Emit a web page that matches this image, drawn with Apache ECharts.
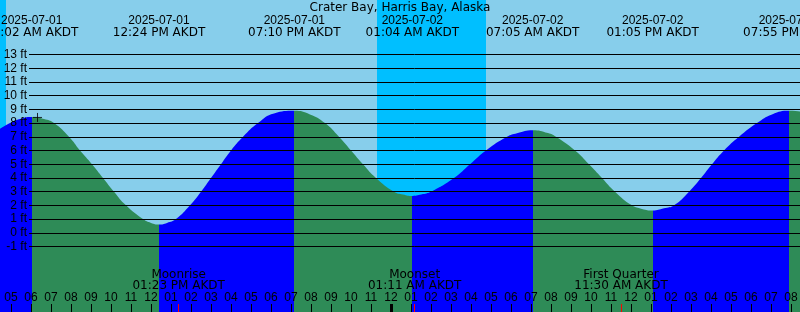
<!DOCTYPE html>
<html><head><meta charset="utf-8">
<script src="https://cdn.jsdelivr.net/npm/echarts@6/dist/echarts.min.js"></script>
<style>html,body{margin:0;padding:0;background:#87CEEB}#c{width:800px;height:312px}</style>
</head><body><div id="c"></div>
<script>
// ---- data (hours counted from 2025-07-01 00:00 AKDT) ----
const chartTitle = 'Crater Bay, Harris Bay, Alaska';
const tideHours = [4.40, 4.90, 5.40, 6.0333, 6.65, 7.15, 7.90, 8.45, 9.05, 9.60, 10.15, 10.75, 11.60, 12.00, 12.4,
  12.80, 13.25, 13.95, 14.50, 15.00, 15.50, 16.00, 16.60, 17.35, 18.15, 19.1667,
  19.95, 20.70, 21.40, 22.00, 22.60, 23.25, 24.15, 24.60, 25.0667,
  25.60, 26.00, 27.15, 27.95, 28.75, 29.80, 30.30, 31.0833,
  31.85, 32.25, 33.20, 33.90, 34.55, 35.20, 36.05, 36.55, 37.0833,
  37.65, 38.15, 38.90, 39.50, 40.05, 40.65, 41.40, 42.30, 43.05, 43.9167, 44.50];
const tideFeet = [7.53, 7.97, 8.28, 8.45, 8.30, 8.00, 7.00, 6.00, 5.00, 4.00, 3.00, 2.00, 1.00, 0.72, 0.60,
  0.72, 1.00, 2.00, 3.00, 4.00, 5.00, 6.00, 7.00, 8.00, 8.70, 8.89,
  8.63, 8.00, 7.00, 6.00, 5.00, 4.00, 3.00, 2.80, 2.69,
  2.82, 3.00, 4.00, 5.00, 6.00, 7.00, 7.26, 7.48,
  7.27, 7.00, 6.00, 5.00, 4.00, 3.00, 2.00, 1.74, 1.62,
  1.78, 2.00, 3.00, 4.00, 5.00, 6.00, 7.00, 8.00, 8.63, 8.89, 8.84];
const extremeHours = [6.0333, 12.4, 19.1667, 25.0667, 31.0833, 37.0833, 43.9167];
const extremeDates = ['2025-07-01', '2025-07-01', '2025-07-01', '2025-07-02', '2025-07-02', '2025-07-02', '2025-07-02'];
const extremeClock = ['06:02 AM AKDT', '12:24 PM AKDT', '07:10 PM AKDT', '01:04 AM AKDT', '07:05 AM AKDT', '01:05 PM AKDT', '07:55 PM AKDT'];
const moonHours = [13.3833, 25.1833, 35.5, 38.7667];
const moonEvents = ['Moonrise', 'Moonset', 'First Quarter', 'Moonrise'];
const moonClock = ['01:23 PM AKDT', '01:11 AM AKDT', '11:30 AM AKDT', '02:46 PM AKDT'];
const hourTicks = [5,6,7,8,9,10,11,12,13,14,15,16,17,18,19,20,21,22,23,24,25,26,27,28,29,30,31,32,33,34,35,36,37,38,39,40,41,42,43,44];
const midnightHours = [24];
const depthTicks = [13, 12, 11, 10, 9, 8, 7, 6, 5, 4, 3, 2, 1, 0, -1];
const nightStart = [0, 23.3];
const nightEnd = [4.75, 28.75];
const nowMark = [6.325, 8.41];

// ---- view settings ----
const X_MIN = 4.45, X_MAX = 44.45, Y_MIN = -5.776, Y_MAX = 16.974;
const FONT_D = 'Liberation Sans';   // digit-heavy labels
const FONT_T = 'DejaVu Sans';       // text labels
const C_RISE = '#0000FF', C_FALL = '#2E8B57', C_DAY = '#87CEEB', C_NIGHT = '#00BFFF';

const tideData = tideHours.map((t, i) => [t, tideFeet[i]]);

// colour pieces: rising (blue) before a high, falling (green) before a low
const pieces = [];
let prev = null;
extremeHours.forEach((t) => {
  const i = tideHours.indexOf(t);
  const isHigh = tideFeet[i] > tideFeet[i - 1];
  const p = { color: isHigh ? C_RISE : C_FALL, lt: t };
  if (prev !== null) p.gte = prev;
  pieces.push(p);
  prev = t;
});
{
  const lastI = tideHours.indexOf(extremeHours[extremeHours.length - 1]);
  const lastHigh = tideFeet[lastI] > tideFeet[lastI - 1];
  pieces.push({ gte: prev, color: lastHigh ? C_FALL : C_RISE });
}

const findIdx = (arr, v) => { let b = 0; arr.forEach((a, i) => { if (Math.abs(a - v) < Math.abs(arr[b] - v)) b = i; }); return b; };
const hourFmt = v => { const h = Math.round(v) % 12; return String(h === 0 ? 12 : h).padStart(2, '0'); };

const baseX = (extra) => Object.assign({
  type: 'value', gridIndex: 0, min: X_MIN, max: X_MAX, z: 10,
  axisLine: { show: false, onZero: false }, splitLine: { show: false }
}, extra);

const option = {
  animation: false,
  backgroundColor: C_DAY,
  title: {
    text: chartTitle, left: 'center', top: 1.5, padding: 0,
    textStyle: { fontFamily: FONT_T, fontSize: 12, fontWeight: 'normal', color: '#000', lineHeight: 12 }
  },
  grid: [
    { left: 0, right: 0, top: 0, bottom: 0, containLabel: false, outerBoundsMode: 'none' },
    { left: 29, right: 0, top: 0, bottom: 0, containLabel: false, outerBoundsMode: 'none' }
  ],
  visualMap: {
    type: 'piecewise', show: false, dimension: 0, seriesIndex: 0, pieces: pieces
  },
  xAxis: [
    baseX({ position: 'bottom',
      axisTick: { show: true, inside: true, length: 8, customValues: hourTicks, lineStyle: { color: '#000', width: 1 } },
      axisLabel: { show: true, inside: true, margin: 8, customValues: hourTicks, formatter: hourFmt,
        fontFamily: FONT_D, fontSize: 12, color: '#000', lineHeight: 12, verticalAlign: 'bottom', align: 'center' } }),
    baseX({ position: 'top',
      axisTick: { show: false },
      axisLabel: { show: true, inside: true, margin: 15, customValues: extremeHours,
        formatter: v => { const i = findIdx(extremeHours, v); return '{d|' + extremeDates[i] + '}\n{t|' + extremeClock[i] + '}'; },
        rich: {
          d: { fontFamily: FONT_D, fontSize: 12, lineHeight: 12, color: '#000', align: 'center' },
          t: { fontFamily: FONT_T, fontSize: 12, lineHeight: 12, color: '#000', align: 'center' }
        },
        color: '#000', verticalAlign: 'top', align: 'center' } }),
    baseX({ position: 'bottom',
      axisTick: { show: true, inside: true, length: 8, customValues: moonHours, lineStyle: { color: '#FF0000', width: 1 } },
      axisLabel: { show: true, inside: true, margin: 20, customValues: moonHours,
        formatter: v => { const i = findIdx(moonHours, v); return moonEvents[i] + '\n' + moonClock[i]; },
        fontFamily: FONT_T, fontSize: 12, color: '#000', lineHeight: 11.5, verticalAlign: 'bottom', align: 'center' } }),
    baseX({ position: 'bottom',
      axisTick: { show: true, inside: true, length: 8, customValues: midnightHours, lineStyle: { color: '#000', width: 3 } },
      axisLabel: { show: false } }),
    { type: 'value', gridIndex: 1, min: 0, max: 1, show: false, axisLine: { onZero: false } }
  ],
  yAxis: [
    { type: 'value', gridIndex: 0, min: Y_MIN, max: Y_MAX, show: false, splitLine: { show: false }, axisLine: { onZero: false } },
    { type: 'value', gridIndex: 1, min: Y_MIN, max: Y_MAX, show: false, splitLine: { show: false }, axisLine: { onZero: false } }
  ],
  series: [
    {
      type: 'line', xAxisIndex: 0, yAxisIndex: 0, z: 2, silent: true,
      data: tideData, smooth: 0.5, showSymbol: false, symbol: 'none',
      lineStyle: { width: 1, opacity: 0 },
      areaStyle: { origin: 'start', opacity: 1 },
      markArea: {
        silent: true,
        itemStyle: { color: C_NIGHT },
        data: nightStart.map((s, i) => [{ xAxis: s }, { xAxis: nightEnd[i] }])
      }
    },
    {
      type: 'line', xAxisIndex: 4, yAxisIndex: 1, z: 5, silent: true, data: [],
      markLine: {
        silent: true, symbol: ['none', 'none'], animation: false,
        lineStyle: { color: '#000', width: 1, type: 'solid' },
        emphasis: { disabled: true },
        label: { show: true, position: 'start', distance: 2, formatter: p => p.value + ' ft',
          fontFamily: FONT_D, fontSize: 12, color: '#000' },
        data: depthTicks.map(v => ({ yAxis: v }))
      }
    },
    {
      type: 'scatter', xAxisIndex: 0, yAxisIndex: 0, z: 6, silent: true,
      data: [nowMark], symbol: 'path://M0 5 L10 5 M5 0 L5 10', symbolSize: 9,
      itemStyle: { color: 'rgba(0,0,0,0)', borderColor: '#000', borderWidth: 1 }
    }
  ]
};

const chart = echarts.init(document.getElementById('c'), null, { renderer: 'canvas' });
chart.setOption(option);
</script>
</body></html>
